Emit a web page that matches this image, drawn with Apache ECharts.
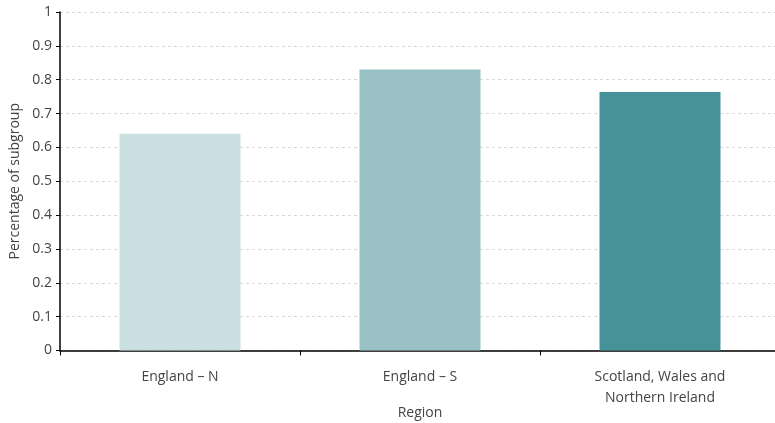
<!DOCTYPE html>
<html><head><meta charset="utf-8">
<script src="https://cdn.jsdelivr.net/npm/echarts@6/dist/echarts.min.js"></script>
<style>html,body{margin:0;padding:0;background:#fff}#c{width:775px;height:423px}</style>
</head><body><div id="c"></div>
<script>
const categories = ['England – N', 'England – S', 'Scotland, Wales and\nNorthern Ireland'];
const values = [0.64, 0.83, 0.764];
const barColors = ['#cadfe1', '#99c1c3', '#459398'];
const yTicks = [0, 0.1, 0.2, 0.3, 0.4, 0.5, 0.6, 0.7, 0.8, 0.9, 1];

const chart = echarts.init(document.getElementById('c'));
const font = '"Open Sans", "Noto Sans", sans-serif';
chart.setOption({
  animation: false,
  grid: { left: 60, top: 12, width: 720, bottom: 72.5, containLabel: false, outerBoundsMode: 'none' },
  xAxis: {
    type: 'category', data: categories,
    name: 'Region', nameLocation: 'middle', nameGap: 56, nameMoveOverlap: false,
    nameTextStyle: { color: '#444', fontSize: 14, fontFamily: font },
    axisLine: { lineStyle: { color: '#000', width: 1.5 } },
    axisTick: { show: true, length: 5, lineStyle: { color: '#000' } },
    axisLabel: { color: '#444', fontSize: 14, fontFamily: font, margin: 16, lineHeight: 21 }
  },
  yAxis: {
    type: 'value', min: 0, max: 1, interval: 0.1,
    name: 'Percentage of subgroup', nameLocation: 'middle', nameGap: 38, nameMoveOverlap: false,
    nameTextStyle: { color: '#444', fontSize: 14, fontFamily: font },
    axisLine: { show: true, lineStyle: { color: '#000', width: 1.5 } },
    axisTick: { show: true, length: 4, lineStyle: { color: '#000' } },
    axisLabel: { color: '#444', fontSize: 14, fontFamily: font, margin: 8,
      formatter: v => { const t = yTicks.find(x => Math.abs(x - v) < 1e-9); return String(+((t ?? v).toFixed(1))); } },
    splitLine: { show: true, lineStyle: { color: '#d9d9d9', type: [3, 3], width: 1 } }
  },
  series: [{
    type: 'bar', barWidth: 121,
    data: values.map((v, i) => ({ value: v, itemStyle: { color: barColors[i] } }))
  }]
});
</script></body></html>
